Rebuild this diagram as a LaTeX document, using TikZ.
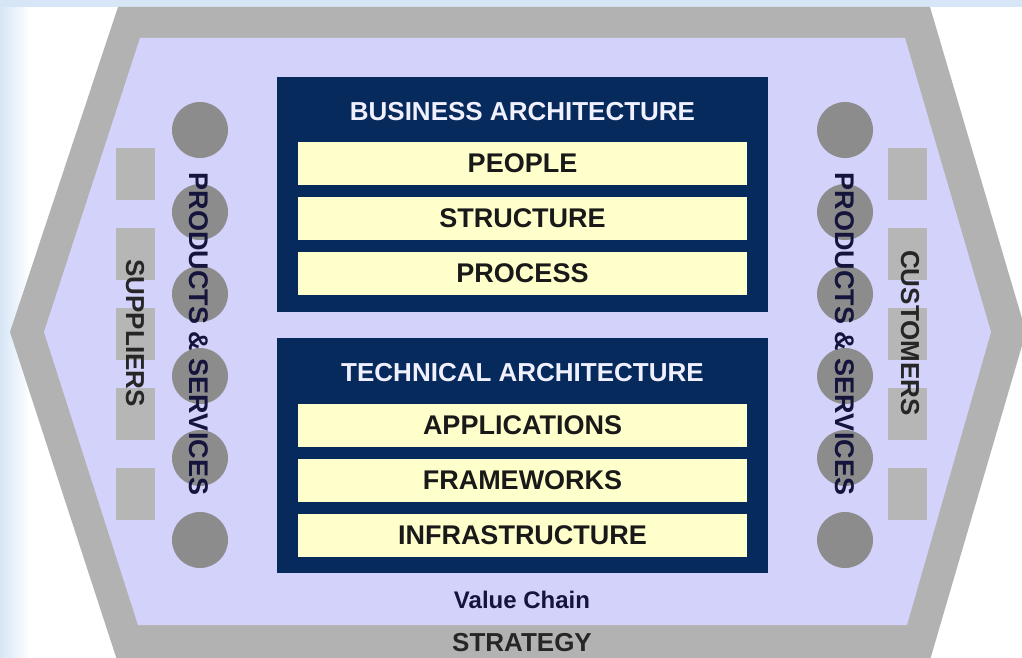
\documentclass[tikz,border=0pt]{standalone}
\usepackage{fontspec}
\setmainfont{Liberation Sans}
\usetikzlibrary{positioning}
\definecolor{bandgray}{HTML}{B2B2B2}
\definecolor{lavender}{HTML}{D2D2FA}
\definecolor{archnavy}{HTML}{062A5C}
\definecolor{layeryellow}{HTML}{FFFFCC}
\definecolor{discgray}{HTML}{8C8C8C}
\definecolor{tilegray}{HTML}{B6B6B6}
\definecolor{inkblue}{HTML}{14143C}
\definecolor{skyblue}{HTML}{D6E6F6}

\begin{document}
\begin{tikzpicture}[x=1pt, y=1pt, on grid,
  arch/.style={rectangle, fill=archnavy, minimum width=491pt, minimum height=235pt, inner sep=0pt},
  heading/.style={text=white!94!blue, font=\fontsize{26}{26}\selectfont\bfseries},
  layer/.style={rectangle, fill=layeryellow, text=black!90, minimum width=449pt, minimum height=43pt, inner sep=0pt, font=\fontsize{27}{27}\selectfont\bfseries},
  disc/.style={circle, fill=discgray, minimum size=56pt, inner sep=0pt},
  tile/.style={rectangle, fill=tilegray, minimum width=39pt, minimum height=52pt, inner sep=0pt},
  side/.style={rotate=-90, text=inkblue, inner sep=0pt, font=\fontsize{26}{26}\selectfont\bfseries}]
      \useasboundingbox (0,0) rectangle (1022,-658);
      \clip (0,0) rectangle (1022,-658);
      \fill[white] (0,0) rectangle (1022,-658);
      \fill[left color=skyblue, right color=white] (0,0) rectangle (30,-658);
      \fill[skyblue] (0,0) rectangle (1022,-7);

      \fill[bandgray] (118,-7) -- (930,-7) -- (1026,-332) -- (930,-660)
      -- (117,-660) -- (10,-332) -- cycle;
      \fill[lavender] (140,-38) -- (905,-38) -- (991,-332) -- (907,-625)
      -- (138,-625) -- (44,-332) -- cycle;

      \node[arch] (ba) at (522.5,-194.5) {};
      \node[heading, above=82.5pt of ba] (bt) {BUSINESS ARCHITECTURE};
      \node[layer, below=51.5pt of bt] (people) {PEOPLE};
      \node[layer, below=55pt of people] (structure) {STRUCTURE};
      \node[layer, below=55pt of structure] (process) {PROCESS};

      \node[arch] (ta) at (522.5,-455.5) {};
      \node[heading, above=82.5pt of ta] (tt) {TECHNICAL ARCHITECTURE};
      \node[layer, below=52pt of tt] (applications) {APPLICATIONS};
      \node[layer, below=55pt of applications] (frameworks) {FRAMEWORKS};
      \node[layer, below=55pt of frameworks] (infrastructure) {INFRASTRUCTURE};

      \node[tile] (lq1) at (135.5,-174) {};
      \node[tile, below=80pt of lq1] (lq2) {};
      \node[tile, below=80pt of lq2] (lq3) {};
      \node[tile, below=80pt of lq3] (lq4) {};
      \node[tile, below=80pt of lq4] (lq5) {};
      \node[tile] (rq1) at (907,-174) {};
      \node[tile, below=80pt of rq1] (rq2) {};
      \node[tile, below=80pt of rq2] (rq3) {};
      \node[tile, below=80pt of rq3] (rq4) {};
      \node[tile, below=80pt of rq4] (rq5) {};

      \node[disc] (l1) at (200,-130) {};
      \node[disc, below=82pt of l1] (l2) {};
      \node[disc, below=82pt of l2] (l3) {};
      \node[disc, below=82pt of l3] (l4) {};
      \node[disc, below=82pt of l4] (l5) {};
      \node[disc, below=82pt of l5] (l6) {};
      \node[disc] (r1) at (845,-130) {};
      \node[disc, below=82pt of r1] (r2) {};
      \node[disc, below=82pt of r2] (r3) {};
      \node[disc, below=82pt of r3] (r4) {};
      \node[disc, below=82pt of r4] (r5) {};
      \node[disc, below=82pt of r5] (r6) {};

      \node[side, text=black!85] (suppliers) at (135,-333) {SUPPLIERS};
      \node[side, font=\fontsize{27}{27}\selectfont\bfseries] (lps) at (199,-334) {PRODUCTS \& SERVICES};
      \node[side, font=\fontsize{27}{27}\selectfont\bfseries] (rps) at (845,-334) {PRODUCTS \& SERVICES};
      \node[side, text=black!85] (customers) at (910,-333) {CUSTOMERS};

      \node[text=inkblue, font=\fontsize{24}{24}\selectfont\bfseries] (chain) at (522,-600) {Value Chain};
      \node[text=black!85, font=\fontsize{26}{26}\selectfont\bfseries] (strategy) at (522,-643) {STRATEGY};
    \end{tikzpicture}
\end{document}
